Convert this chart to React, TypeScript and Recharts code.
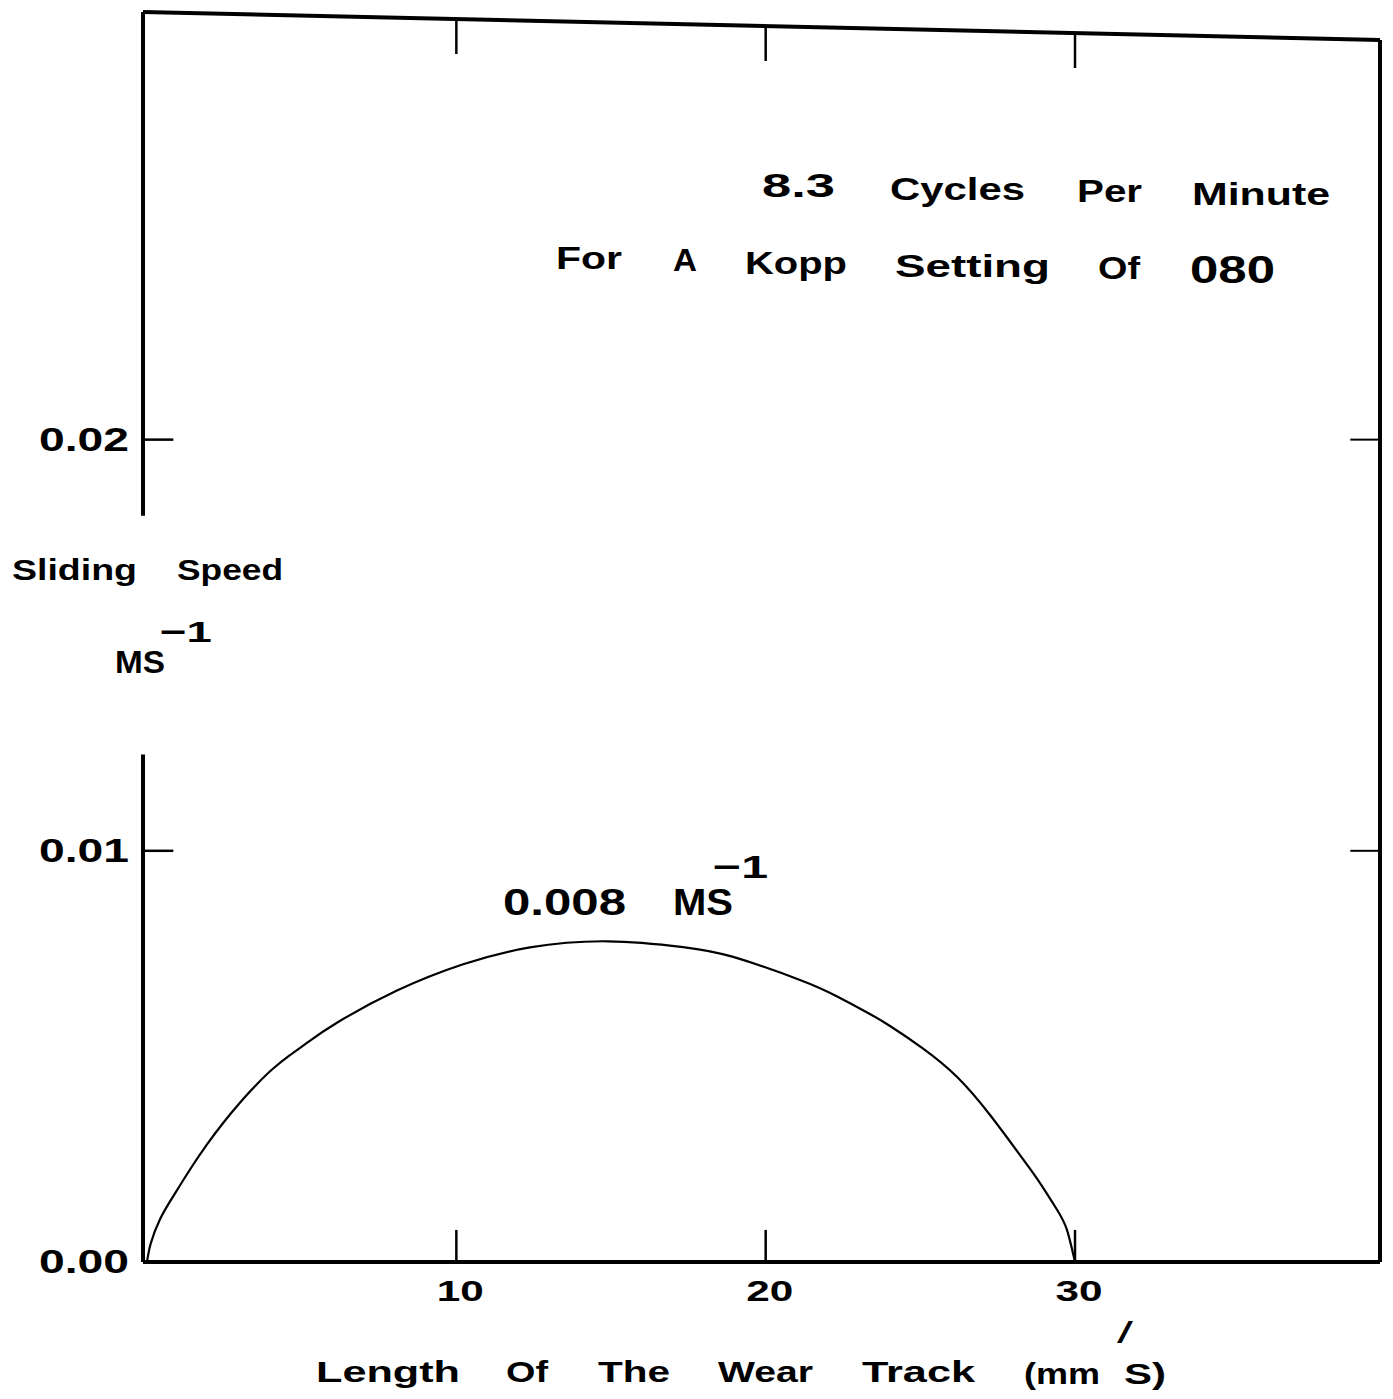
import React from 'react';
import { LineChart, Line, XAxis, YAxis, ReferenceLine } from 'recharts';

// Length of the wear track (mm) and sliding speed (m/s)
const trackLength = [0, 0.12, 0.42, 0.84, 1.39, 1.94, 2.46, 3.01, 3.56, 4.07, 4.62, 5.17, 6.14, 8.08, 10.22, 12.38, 14.9, 17.33, 18.95, 21.11, 22.28, 23.28, 24.02, 25.09, 26.19, 27.26, 28.32, 28.87, 29.42, 29.74, 30];
const slidingSpeed = [0, 0.00045, 0.00104, 0.00159, 0.00225, 0.00286, 0.00338, 0.00388, 0.00433, 0.0047, 0.00503, 0.00533, 0.00582, 0.0066, 0.00724, 0.00765, 0.0078, 0.00766, 0.00742, 0.00686, 0.00647, 0.00607, 0.00574, 0.00519, 0.0045, 0.00357, 0.0025, 0.00192, 0.00127, 0.00078, 0];
const xTicks = [10, 20, 30];
const yTicks = [0, 0.01, 0.02];

const X_MIN = -0.13;
const X_MAX = 39.86;
const Y_MAX = 0.0304;
const Y_TOP_RIGHT = 0.02972;

const data = trackLength.map((x, i) => ({ x, speed: slidingSpeed[i] }));

const FONT = '"Liberation Sans", Arial, Helvetica, sans-serif';

type Lbl = { t: string; x: number; y: number; w: number; s: number; wt?: string };
const labels: Lbl[] = [
  { t: '8.3', x: 762, y: 197, w: 73, s: 34 },
  { t: 'Cycles', x: 890, y: 200, w: 135, s: 32 },
  { t: 'Per', x: 1077, y: 202, w: 65, s: 32 },
  { t: 'Minute', x: 1192, y: 205, w: 138, s: 32 },
  { t: 'For', x: 556, y: 269, w: 66, s: 32 },
  { t: 'A', x: 673, y: 271, w: 24, s: 32 },
  { t: 'Kopp', x: 745, y: 274, w: 102, s: 32 },
  { t: 'Setting', x: 895, y: 277, w: 155, s: 32 },
  { t: 'Of', x: 1098, y: 279, w: 42, s: 32 },
  { t: '080', x: 1190, y: 283, w: 85, s: 38 },
  { t: 'Sliding', x: 12, y: 580, w: 125, s: 29 },
  { t: 'Speed', x: 177, y: 580, w: 106, s: 29 },
  { t: 'MS', x: 115, y: 673, w: 50, s: 31 },
  { t: '\u22121', x: 160, y: 642, w: 52, s: 30 },
  { t: '0.008', x: 503, y: 915, w: 123, s: 36 },
  { t: 'MS', x: 673, y: 915, w: 60, s: 36 },
  { t: '\u22121', x: 713, y: 878, w: 55, s: 32 },
  { t: 'Length', x: 316, y: 1382, w: 144, s: 30 },
  { t: 'Of', x: 506, y: 1382, w: 42, s: 30 },
  { t: 'The', x: 598, y: 1382, w: 72, s: 30 },
  { t: 'Wear', x: 718, y: 1382, w: 95, s: 30 },
  { t: 'Track', x: 862, y: 1382, w: 113, s: 30 },
  { t: '(mm', x: 1024, y: 1384, w: 76, s: 30 },
  { t: 'S)', x: 1124, y: 1384, w: 42, s: 30 },
  { t: '/', x: 1117, y: 1343, w: 16, s: 30, wt: 'normal' },
];

const topY = (x: number) => Y_MAX - (Y_MAX - Y_TOP_RIGHT) * (x - X_MIN) / (X_MAX - X_MIN);

const XTick = (props: any) => {
  const { x, y, payload } = props;
  return (
    <text x={x + 4} y={y + 31} textAnchor="middle" fontFamily={FONT} fontWeight="bold" fontSize={30}
      textLength={47} lengthAdjust="spacingAndGlyphs" fill="#000">{payload.value}</text>
  );
};

const YTick = (props: any) => {
  const { x, y, payload } = props;
  return (
    <text x={x - 6} y={y + 11} textAnchor="end" fontFamily={FONT} fontWeight="bold" fontSize={33}
      textLength={90} lengthAdjust="spacingAndGlyphs" fill="#000">{Number(payload.value).toFixed(2)}</text>
  );
};

export default function App() {
  const stroke = '#000';
  return (
    <div style={{ position: 'absolute', left: 0, top: 0, width: 1393, height: 1399, background: '#fff' }}>
      <LineChart width={1393} height={1399} data={data} margin={{ top: 12, right: 13, bottom: 97, left: 0 }}>
        <XAxis dataKey="x" type="number" domain={[X_MIN, X_MAX]} ticks={xTicks} allowDataOverflow
          tickLine={false} axisLine={{ stroke, strokeWidth: 4 }} tick={<XTick />} height={40} interval={0} />
        <YAxis type="number" domain={[0, Y_MAX]} ticks={yTicks} allowDataOverflow width={143}
          tickLine={false} axisLine={false} tick={<YTick />} interval={0} />
        {/* frame */}
        <ReferenceLine segment={[{ x: X_MIN, y: Y_MAX }, { x: X_MIN, y: 0.01815 }]} stroke={stroke} strokeWidth={4} ifOverflow="visible" />
        <ReferenceLine segment={[{ x: X_MIN, y: 0.01234 }, { x: X_MIN, y: 0 }]} stroke={stroke} strokeWidth={4} ifOverflow="visible" />
        <ReferenceLine segment={[{ x: X_MIN, y: Y_MAX }, { x: X_MAX, y: Y_TOP_RIGHT }]} stroke={stroke} strokeWidth={4} ifOverflow="visible" />
        <ReferenceLine segment={[{ x: X_MAX, y: Y_TOP_RIGHT }, { x: X_MAX, y: 0 }]} stroke={stroke} strokeWidth={4} ifOverflow="visible" />
        {/* inward ticks */}
        {yTicks.filter(v => v > 0).map(v => (
          <ReferenceLine key={'l' + v} segment={[{ x: X_MIN, y: v }, { x: 0.85, y: v }]} stroke={stroke} strokeWidth={2.5} ifOverflow="visible" />
        ))}
        {yTicks.filter(v => v > 0).map(v => (
          <ReferenceLine key={'r' + v} segment={[{ x: 38.9, y: v }, { x: X_MAX, y: v }]} stroke={stroke} strokeWidth={2} ifOverflow="visible" />
        ))}
        {xTicks.map(v => (
          <ReferenceLine key={'b' + v} segment={[{ x: v, y: 0 }, { x: v, y: 0.00078 }]} stroke={stroke} strokeWidth={2.5} ifOverflow="visible" />
        ))}
        {xTicks.map(v => (
          <ReferenceLine key={'t' + v} segment={[{ x: v, y: topY(v) }, { x: v, y: topY(v) - 0.00085 }]} stroke={stroke} strokeWidth={2.5} ifOverflow="visible" />
        ))}
        <Line dataKey="speed" type="natural" stroke={stroke} strokeWidth={2.2} dot={false} isAnimationActive={false} />
      </LineChart>
      <svg width={1393} height={1399} style={{ position: 'absolute', left: 0, top: 0, pointerEvents: 'none' }}>
        {labels.map((l, i) => (
          <text key={i} x={l.x} y={l.y} fontFamily={FONT} fontWeight={l.wt || 'bold'} fontSize={l.s}
            textLength={l.w} lengthAdjust="spacingAndGlyphs" fill="#000">{l.t}</text>
        ))}
      </svg>
    </div>
  );
}
